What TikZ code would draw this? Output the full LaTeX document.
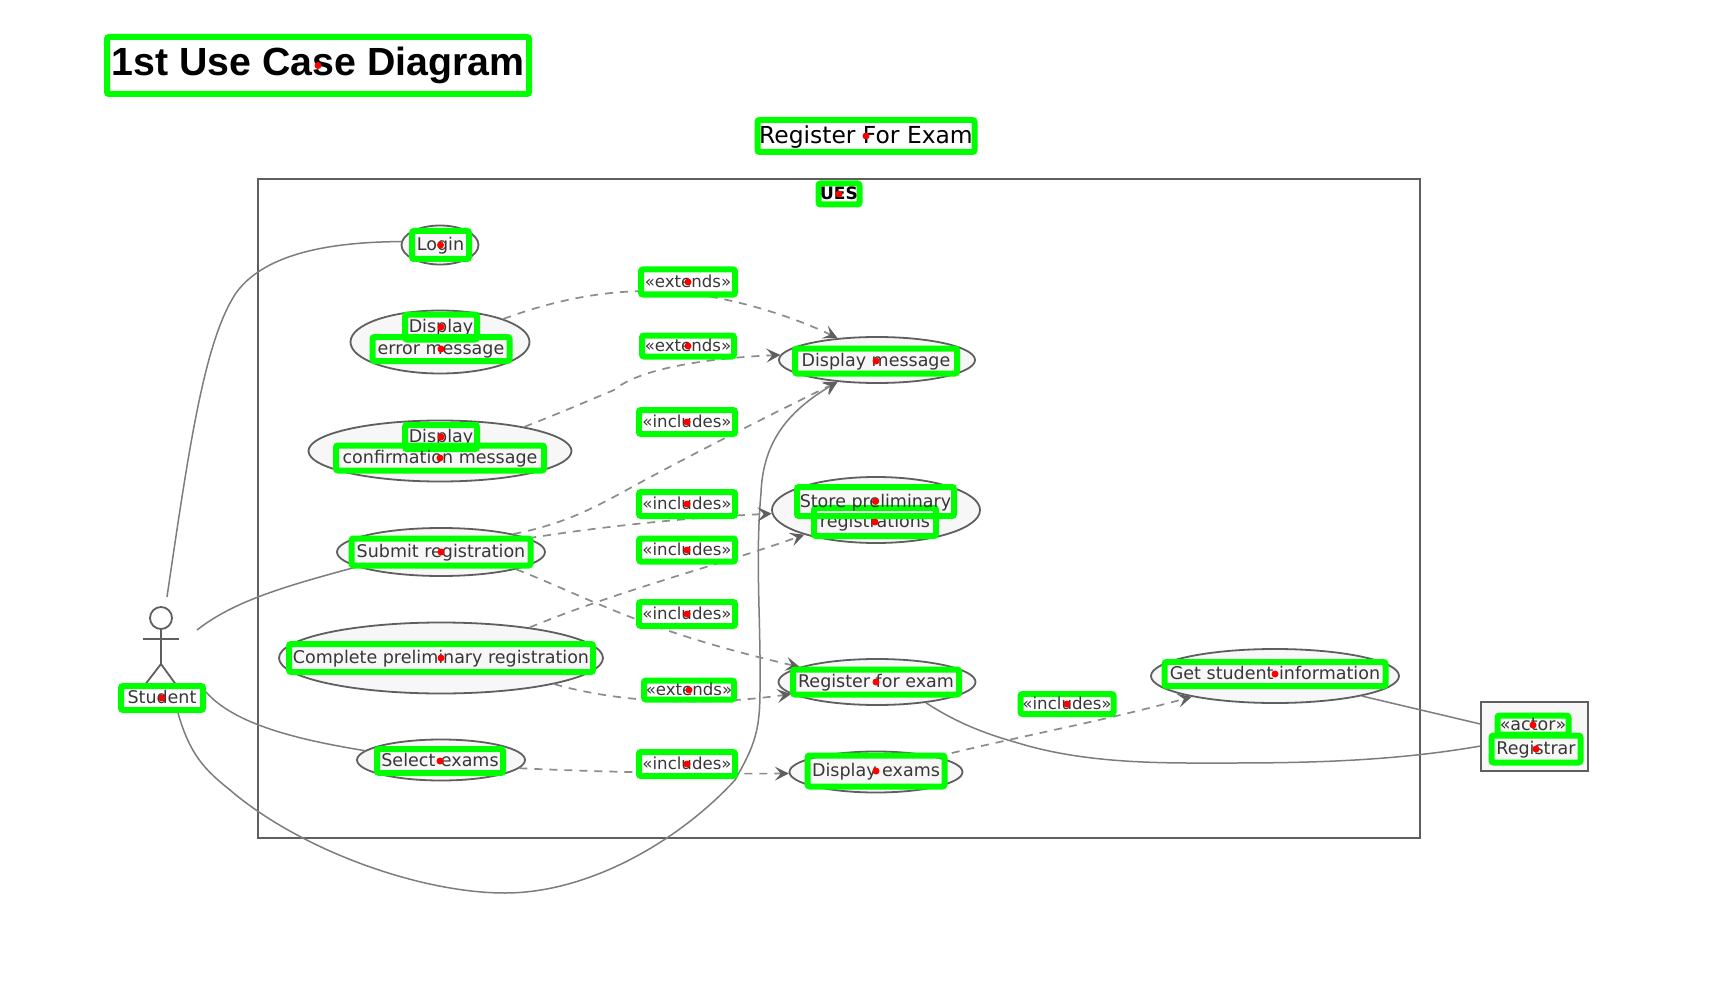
\documentclass[tikz,border=0pt]{standalone}
\usepackage{fontspec}
\setmainfont{DejaVu Sans}
\newfontfamily\titlefont{Liberation Sans}
\usetikzlibrary{shapes.geometric,arrows.meta}
\definecolor{grn}{RGB}{0,255,0}
\definecolor{dotred}{RGB}{255,0,0}
\definecolor{edgeg}{RGB}{95,95,95}
\definecolor{lineg}{RGB}{125,125,125}
\definecolor{dashg}{RGB}{140,140,140}
\definecolor{ucfill}{RGB}{247,247,247}
\definecolor{txt}{RGB}{55,55,55}
\tikzset{
  uc/.style={ellipse,draw=edgeg,line width=1.8pt,fill=ucfill,inner sep=0pt},
  labbox/.style={draw=grn,line width=6pt,rounded corners=2pt,inner sep=0pt,align=center,text=txt,outer sep=0pt,text height=13pt,text depth=2pt,font=\fontsize{17.5}{19}\selectfont},
  stereo/.style={labbox,fill=white,text height=12pt,text depth=1pt,font=\fontsize{16.6}{18}\selectfont},
  assoc/.style={draw=lineg,line width=1.5pt},
  dep/.style={draw=dashg,line width=1.7pt,dash pattern=on 8pt off 7pt,-{Stealth[length=14pt,width=14pt,inset=6pt,color=edgeg]}},
  solidhead/.style={-{Stealth[length=14pt,width=14pt,inset=6pt,color=edgeg]}},
  actorline/.style={draw=edgeg,line width=1.8pt},
  dotmark/.style={fill=dotred,draw=none}
}
\newcommand{\labnode}[7][labbox]{\node[#1,minimum width={(#5-6)*1pt},minimum height={(#6-6)*1pt}] (#2) at (#3,#4) {#7};}
\newcommand{\ucnode}[5]{\node[uc,minimum width={#4*1pt},minimum height={#5*1pt}] (#1) at (#2,#3) {};}
\begin{document}
\begin{tikzpicture}[x=1pt,y=-1pt]
\useasboundingbox (0,0) rectangle (1717,987);
\fill[white] (0,0) rectangle (1717,987);

% system boundary
\node[draw=edgeg,line width=2pt,minimum width=1162pt,minimum height=659pt,inner sep=0pt] (ues) at (839,508.5) {};
% external actor box
\node[draw=edgeg,line width=2pt,fill=ucfill,minimum width=107pt,minimum height=69pt,inner sep=0pt] (regbox) at (1534.5,736.5) {};

% use cases
\ucnode{login}{440}{245}{77}{39}
\ucnode{err}{440}{342}{179}{63}
\ucnode{conf}{440}{451}{263}{61}
\ucnode{submit}{441}{552}{208}{48}
\ucnode{complete}{441}{658}{324}{71}
\ucnode{selex}{441}{760}{168}{41}
\ucnode{msg}{877}{360}{196}{46}
\ucnode{store}{876}{510}{208}{66}
\ucnode{regex}{877}{682}{197}{46}
\ucnode{dispex}{876}{772}{173}{41}
\ucnode{getinfo}{1275}{676}{248}{54}

% actor
\node[ellipse,draw=edgeg,line width=1.8pt,minimum width=22pt,minimum height=22pt,inner sep=0pt] (head) at (161,618) {};
\coordinate (hip) at (161,664);
\coordinate (armL) at (143,639);
\coordinate (armR) at (179,639);
\coordinate (legL) at (144,686);
\coordinate (legR) at (177,686);
\draw[actorline] (head.south) -- (hip);
\draw[actorline] (armL) -- (armR);
\draw[actorline] (legL) -- (hip) -- (legR);
\coordinate (sa) at (167,597);
\coordinate (sb) at (197,630);
\coordinate (sc) at (206,692);
\coordinate (sd) at (178,713);

% associations
\draw[assoc] (sa) .. controls (190,440) and (205,340) .. (236,293) .. controls (262,257) and (320,242) .. (login.175);
\draw[assoc] (sb) .. controls (235,600) and (290,585) .. (submit.190);
\draw[assoc] (sc) .. controls (235,725) and (300,740) .. (selex.173);
\draw[assoc,solidhead] (sd) .. controls (190,755) and (205,770) .. (230,790) .. controls (300,850) and (420,893) .. (505,893) .. controls (590,893) and (680,840) .. (735,780) .. controls (755,745) and (760,730) .. (760,690) .. controls (761,620) and (755,560) .. (761,493) .. controls (763,440) and (790,410) .. (msg.209);
\draw[assoc] (regex.-23) .. controls (960,725) and (990,735) .. (1018,743) .. controls (1090,765) and (1170,763) .. (1232,763) .. controls (1320,763) and (1400,760) .. (regbox.190);
\draw[assoc] (getinfo.-13) -- (regbox.167);

% dependencies
\draw[dep] (err.20) .. controls (560,298) and (610,290) .. (660,291) .. controls (720,293) and (790,315) .. (msg.151);
\draw[dep] (conf.16) .. controls (560,413) and (590,400) .. (614,390) .. controls (640,368) and (710,358) .. (msg.177);
\draw[dep] (submit.14) .. controls (560,525) and (590,510) .. (623,492) .. controls (690,455) and (780,410) .. (msg.209);
\draw[dep] (submit.9.5) .. controls (600,527) and (680,518) .. (store.182);
\draw[dep] (complete.19) .. controls (620,590) and (720,565) .. (store.199);
\draw[dep] (submit.-13) .. controls (590,598) and (640,630) .. (regex.169);
\draw[dep] (complete.-13.4) .. controls (610,700) and (690,708) .. (regex.188);
\draw[dep] (selex.-6) .. controls (600,772) and (700,774) .. (dispex.181);
\draw[dep] (dispex.14) .. controls (1010,738) and (1100,722) .. (getinfo.194);

% labels
\node[labbox,text=black,text height=29pt,text depth=8pt,font=\titlefont\bfseries\fontsize{39.3}{44}\selectfont,minimum width=422pt,minimum height=57pt] (title) at (318,65.5) {1st Use Case Diagram};
\node[labbox,text=black,text height=18pt,text depth=2pt,font=\fontsize{23.4}{26}\selectfont,minimum width=217pt,minimum height=32pt] (rfe) at (866,136) {Register For Exam};
\labnode[labbox,text=black,text height=13pt,text depth=1pt,font=\bfseries\fontsize{17}{19}\selectfont]{uesl}{839}{194}{47}{27}{UES}
\labnode{loginl}{440.5}{245}{63}{34}{Login}
\labnode{erra}{441}{327}{78}{31}{Display}
\labnode{errb}{441}{349}{143}{30}{error message}
\labnode{confa}{441}{437}{78}{30}{Display}
\labnode{confb}{440}{458}{214}{31}{confirmation message}
\labnode{submitl}{441}{552}{185}{33}{Submit registration}
\labnode{completel}{441}{658}{310}{34}{Complete preliminary registration}
\labnode{selexl}{440}{761}{132}{30}{Select exams}
\labnode{msgl}{876}{361}{168}{31}{Display message}
\labnode{storeb}{875}{522}{128}{34}{registrations}
\labnode{storea}{875.5}{501.5}{163}{35}{Store preliminary}
\labnode{regexl}{876}{682}{172}{31}{Register for exam}
\labnode{dispexl}{876}{771}{143}{37}{Display exams}
\labnode{getl}{1275}{674}{227}{30}{Get student information}
\labnode{studentl}{162}{698}{88}{30}{Student}
\labnode[stereo]{x1}{688}{282}{100}{31}{«extends»}
\labnode[stereo]{x2}{688}{346}{98}{27}{«extends»}
\labnode[stereo]{i1}{687}{422}{102}{30}{«includes»}
\labnode[stereo]{i2}{687}{504}{102}{30}{«includes»}
\labnode[stereo]{i3}{687}{550}{102}{29}{«includes»}
\labnode[stereo]{i4}{687}{614}{102}{30}{«includes»}
\labnode[stereo]{x3}{689}{690}{96}{25}{«extends»}
\labnode[stereo]{i5}{687}{764}{102}{30}{«includes»}
\labnode[stereo]{i6}{1067}{704}{99}{26}{«includes»}
\labnode{actorl}{1533}{725}{77}{25}{«actor»}
\labnode{registrarl}{1536}{749}{95}{33}{Registrar}

\foreach \n in {title,rfe,uesl,loginl,erra,errb,confa,confb,submitl,completel,selexl,msgl,storea,storeb,regexl,dispexl,getl,studentl,x1,x2,i1,i2,i3,i4,x3,i5,i6,actorl,registrarl}
  \fill[dotmark] (\n.center) circle (3.5pt);
\end{tikzpicture}
\end{document}
